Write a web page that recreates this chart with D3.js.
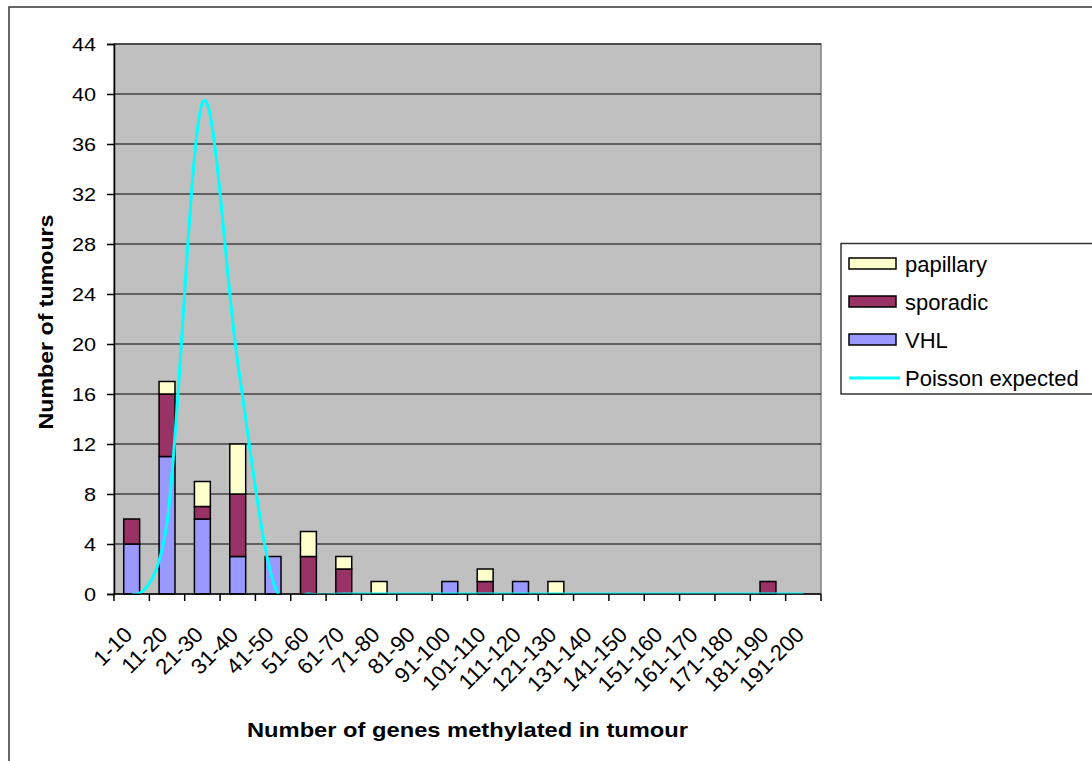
<!DOCTYPE html>
<html>
<head>
<meta charset="utf-8">
<script src="https://cdn.jsdelivr.net/npm/d3@7"></script>
<style>
  body { margin: 0; background: #fff; }
  text { font-family: "Liberation Sans", Arial, sans-serif; }
</style>
</head>
<body>
<script>
// categories and values
const categories = ["1-10", "11-20", "21-30", "31-40", "41-50", "51-60", "61-70", "71-80", "81-90", "91-100",
  "101-110", "111-120", "121-130", "131-140", "141-150", "151-160", "161-170", "171-180", "181-190", "191-200"];
const vhl       = [4, 11, 6, 3, 3, 0, 0, 0, 0, 1, 0, 1, 0, 0, 0, 0, 0, 0, 0, 0];
const sporadic  = [2, 5, 1, 5, 0, 3, 2, 0, 0, 0, 1, 0, 0, 0, 0, 0, 0, 0, 1, 0];
const papillary = [0, 1, 2, 4, 0, 2, 1, 1, 0, 0, 1, 0, 1, 0, 0, 0, 0, 0, 0, 0];
const poisson   = [0, 5.7, 39.3, 18.5, 1.0, 0, 0, 0, 0, 0, 0, 0, 0, 0, 0, 0, 0, 0, 0, 0];
const yTicks = d3.range(0, 45, 4);

const seriesNames = ["VHL", "sporadic", "papillary"];
const colors = { VHL: "#9999FF", sporadic: "#993366", papillary: "#FFFFCC" };

const W = 1092, H = 761;
const plot = { left: 114, top: 44, right: 821, bottom: 594 };

const svg = d3.select("body").append("svg")
    .attr("width", W)
    .attr("height", H);

// chart area border (runs off the picture on the right and bottom)
svg.append("rect")
    .attr("x", 9).attr("y", 7)
    .attr("width", 1200).attr("height", 900)
    .attr("fill", "#fff")
    .attr("stroke", "#333")
    .attr("stroke-width", 1.5);

const x = d3.scaleBand()
    .domain(categories)
    .range([plot.left, plot.right])
    .paddingInner(0.55)
    .paddingOuter(0.275);

const y = d3.scaleLinear()
    .domain([0, 44])
    .range([plot.bottom, plot.top]);

// plot background
svg.append("rect")
    .attr("x", plot.left).attr("y", plot.top)
    .attr("width", plot.right - plot.left)
    .attr("height", plot.bottom - plot.top)
    .attr("fill", "#C0C0C0")
    .attr("stroke", "#808080")
    .attr("stroke-width", 1.5);

// gridlines
svg.append("g")
    .selectAll("line")
    .data(yTicks.filter(d => d > 0))
    .enter()
    .append("line")
    .attr("x1", plot.left).attr("x2", plot.right)
    .attr("y1", d => y(d)).attr("y2", d => y(d))
    .attr("stroke", "#000")
    .attr("stroke-width", 1);

// stacked bars
const rows = categories.map((c, i) => ({ cat: c, VHL: vhl[i], sporadic: sporadic[i], papillary: papillary[i] }));
const stacked = d3.stack().keys(seriesNames)(rows);

svg.append("g")
    .selectAll("g")
    .data(stacked)
    .enter()
    .append("g")
    .attr("fill", d => colors[d.key])
    .selectAll("rect")
    .data(d => d.filter(s => s[1] - s[0] > 0))
    .enter()
    .append("rect")
    .attr("x", d => x(d.data.cat))
    .attr("y", d => y(d[1]))
    .attr("width", x.bandwidth())
    .attr("height", d => y(d[0]) - y(d[1]))
    .attr("stroke", "#000")
    .attr("stroke-width", 1.5);

// axes
const yAxis = d3.axisLeft(y).tickValues(yTicks).tickSize(7).tickPadding(11);
const gy = svg.append("g")
    .attr("transform", "translate(" + plot.left + ",0)")
    .call(yAxis);
gy.select(".domain").attr("stroke", "#000").attr("stroke-width", 1.5);
gy.selectAll(".tick line").attr("stroke", "#000").attr("stroke-width", 1.5);
gy.selectAll(".tick text")
    .attr("font-family", "Liberation Sans, Arial, sans-serif")
    .attr("font-size", 19)
    .attr("fill", "#000")
    .each(function() {
        // the original labels are a little wider than normal Arial
        const len = this.getComputedTextLength();
        d3.select(this).attr("textLength", len * 1.14).attr("lengthAdjust", "spacingAndGlyphs");
    });

const gx = svg.append("g")
    .attr("transform", "translate(0," + plot.bottom + ")");
gx.append("line")
    .attr("x1", plot.left).attr("x2", plot.right)
    .attr("stroke", "#000").attr("stroke-width", 1.5);
// ticks at category boundaries
const bounds = categories.map(c => x(c) - x.step() * x.paddingInner() / 2).concat([plot.right]);
gx.selectAll(".btick")
    .data(bounds)
    .enter()
    .append("line")
    .attr("x1", d => d).attr("x2", d => d)
    .attr("y1", 0).attr("y2", 7)
    .attr("stroke", "#000").attr("stroke-width", 1.5);
gx.selectAll(".xlab")
    .data(categories)
    .enter()
    .append("text")
    .attr("transform", d => "translate(" + (x(d) + x.bandwidth() / 2 + 2) + ",42) rotate(-45)")
    .attr("text-anchor", "end")
    .attr("font-size", 22)
    .attr("fill", "#000")
    .text(d => d);

// Poisson expected line, clipped to the plot area
svg.append("clipPath").attr("id", "plotclip")
    .append("rect")
    .attr("x", plot.left).attr("y", plot.top)
    .attr("width", plot.right - plot.left)
    .attr("height", plot.bottom - plot.top - 0.5);

const line = d3.line()
    .x((d, i) => x(categories[i]) + x.bandwidth() / 2)
    .y(d => y(d))
    .curve(d3.curveCatmullRom.alpha(0));

svg.append("path")
    .datum(poisson)
    .attr("clip-path", "url(#plotclip)")
    .attr("d", line)
    .attr("fill", "none")
    .attr("stroke", "#00FFFF")
    .attr("stroke-width", 3);

// axis titles
svg.append("text")
    .attr("transform", "translate(53,322) rotate(-90)")
    .attr("text-anchor", "middle")
    .attr("font-size", 21)
    .attr("font-weight", "bold")
    .attr("textLength", 215)
    .attr("lengthAdjust", "spacingAndGlyphs")
    .text("Number of tumours");

svg.append("text")
    .attr("x", 467.5)
    .attr("y", 737)
    .attr("text-anchor", "middle")
    .attr("font-size", 21)
    .attr("font-weight", "bold")
    .attr("textLength", 441)
    .attr("lengthAdjust", "spacingAndGlyphs")
    .text("Number of genes methylated in tumour");

// legend
const legend = svg.append("g");
legend.append("rect")
    .attr("x", 841).attr("y", 243.5)
    .attr("width", 300).attr("height", 150.5)
    .attr("fill", "#fff")
    .attr("stroke", "#333")
    .attr("stroke-width", 1.5);

const legendItems = ["papillary", "sporadic", "VHL", "Poisson expected"];
legendItems.forEach(function(name, i) {
    const cy = 264 + i * 38;
    if (name === "Poisson expected") {
        legend.append("line")
            .attr("x1", 849).attr("x2", 900)
            .attr("y1", cy).attr("y2", cy)
            .attr("stroke", "#00FFFF")
            .attr("stroke-width", 3);
    } else {
        legend.append("rect")
            .attr("x", 849).attr("y", cy - 6)
            .attr("width", 47).attr("height", 11)
            .attr("fill", colors[name])
            .attr("stroke", "#000")
            .attr("stroke-width", 1.5);
    }
    legend.append("text")
        .attr("x", 905)
        .attr("y", cy + 8)
        .attr("font-size", 22)
        .attr("fill", "#000")
        .text(name);
});
</script>
</body>
</html>
